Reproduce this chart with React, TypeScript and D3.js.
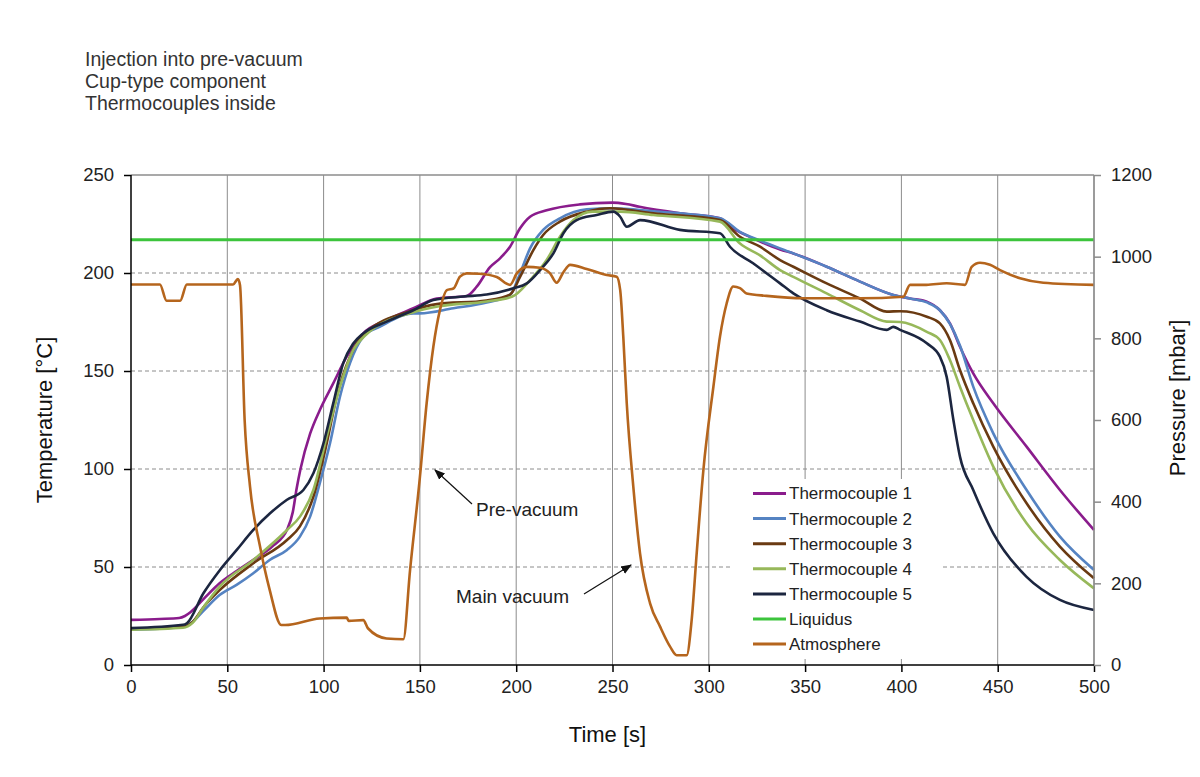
import React, { useEffect, useRef } from 'react';
import * as d3 from 'd3';

// [time s, temperature °C]
const tc1 = [
  [0, 23], [15, 23.5], [25, 24], [28, 25], [31, 27], [38, 34], [46, 41.7], [55, 48], [63.5, 53.6], [74, 61],
  [81, 69], [84, 78], [86, 90], [88, 100], [93, 118], [98, 130], [105, 143.7], [112, 157.3], [120.6, 169.2],
  [132.7, 176], [146.6, 182], [158.7, 187], [174.3, 188.3], [179.5, 193], [186.4, 203], [191.6, 207.5],
  [196.8, 213.4], [202, 222.8], [207.2, 228.7], [215.8, 232], [233, 235], [250, 235.9], [257, 235.2],
  [264, 233.8], [285, 230.5], [305.8, 227.9], [312.7, 222.8], [323, 217.7], [337, 212], [343.9, 210],
  [361.2, 203.2], [378.5, 195.6], [395.8, 188.8], [404.5, 187], [413.2, 185.4], [420, 181], [425.2, 174.3],
  [430.4, 162.4], [437.3, 148.8], [447.7, 133.5], [465, 111.4], [482.3, 89.3], [500, 68.9],
];
const tc2 = [
  [0, 18], [15, 18.5], [27, 19.5], [32, 22], [38, 28], [46, 35.7], [55, 41], [63.5, 46.8], [72, 53.6], [81, 58.7],
  [87.7, 65.5], [93, 75.7], [98, 92.7], [103.3, 113], [108.5, 136.9], [113.7, 154], [120.6, 167.5],
  [129.3, 172.6], [146.6, 179.4], [150, 179.4], [167.4, 182], [184.7, 184.9], [196.8, 188.8], [202, 199.8],
  [207.2, 212.6], [214, 222], [222.7, 227.9], [236.6, 232.5], [250.4, 233], [271, 231.5], [305.8, 227.9],
  [316.2, 221], [326.6, 216.5], [343.9, 210], [361.2, 203.2], [378.5, 195.6], [395.8, 188.8], [404.5, 187],
  [413.2, 185], [420, 181], [425.2, 174], [430.4, 163], [437.3, 142], [447.7, 118.2], [465, 89.3],
  [482.3, 65.5], [500, 48.5],
];
const tc3 = [
  [0, 18.4], [27, 19.5], [32, 22], [38, 30], [46, 38.2], [63.5, 51.9], [81, 63.8], [87.7, 70.7], [94.7, 85.9],
  [101.6, 113], [106.8, 136.9], [113.7, 157.3], [120.6, 168.4], [146.6, 181], [158, 184], [184.7, 186],
  [196.8, 189], [202, 198], [208.9, 211.7], [214, 219.4], [222.7, 226.2], [236.6, 231.3], [248.7, 233],
  [271.2, 230.4], [305.8, 227], [316.2, 218.5], [326.6, 213.4], [337, 206.6], [343.9, 203.2], [361.2, 194.7],
  [378.5, 187], [392.4, 180.3], [399.3, 180.5], [413.2, 177.7], [420, 174.3], [425.2, 165.8], [430.4, 150.5],
  [437.3, 133.5], [447.7, 111.4], [465, 82.5], [482.3, 60.4], [500, 44.2],
];
const tc4 = [
  [0, 18], [27, 19], [32, 21.5], [38, 30], [46, 40], [63.5, 53.6], [81, 68.9], [87.7, 75.7], [94.7, 89.3],
  [101.6, 116.5], [108.5, 142], [115.4, 160.7], [122, 168.5], [146.6, 180], [160, 183], [184.7, 185.5],
  [198, 188], [207.2, 196.4], [215.8, 206.6], [222.7, 218.5], [229.7, 227], [239.6, 231.3], [254, 231.3],
  [271.2, 229.6], [305.8, 226.2], [316.2, 215], [326.6, 209], [337, 201.5], [343.9, 198], [361.2, 189.6],
  [378.5, 181], [392.4, 175.2], [399.3, 175], [413.2, 170], [420, 165.8], [425.2, 155.6], [430.4, 142],
  [437.3, 125], [447.7, 101.2], [465, 72.3], [482.3, 53.6], [500, 39.1],
];
const tc5 = [
  [0, 18.8], [27, 20.5], [29, 21.3], [37.6, 36.6], [46.2, 48.5], [54.9, 58.7], [63.5, 68.9], [72.2, 77.4],
  [80.8, 84.2], [89.5, 89.3], [94.7, 97.8], [99.9, 113], [105, 133.5], [110.2, 154], [115.4, 164],
  [120.6, 169.2], [132.7, 175.2], [146.6, 181], [157, 186.2], [172.6, 188], [184.7, 189], [198.5, 192.2],
  [205.5, 194.7], [212.4, 201.5], [219.3, 210], [224.5, 220.3], [231.4, 227], [241.8, 229.6], [250.4, 231.3],
  [254, 228.7], [257.4, 223.6], [264.3, 227], [285, 222], [305.8, 220.3], [311, 213.4], [323, 205],
  [337, 194.7], [343.9, 189.6], [361.2, 181], [378.5, 175.2], [392.4, 171], [395.8, 172.5], [399.3, 171],
  [413.2, 164.1], [420, 157.3], [423.5, 147], [427, 125], [430.4, 106.3], [437.3, 89.3], [447.7, 67.2],
  [465, 45], [482.3, 33.2], [500, 28.1],
];
const liquidus = [[0, 217], [500, 217]];
// [time s, pressure mbar]
const atmosphere = [
  [0, 932], [15, 932], [18.5, 892], [25.5, 892], [29, 932], [53, 932], [55.5, 945], [56.6, 930], [59, 600],
  [61.8, 437], [67, 290], [72, 184], [78, 98], [80, 98], [98, 114], [112, 116], [113, 108], [120.6, 110],
  [123, 90], [132.7, 65], [141.4, 63], [144.9, 233], [150, 460], [153.5, 641], [157, 780], [160.4, 869],
  [164, 918], [167.4, 922], [170.8, 951], [174.3, 959], [181, 958], [189.9, 950], [196.8, 931], [200.3, 959],
  [205.5, 975], [212.4, 973], [217.6, 959], [221, 936], [224.5, 962], [228, 980], [236.6, 970], [247, 955],
  [252.2, 951], [254, 918], [255.6, 804], [257.4, 641], [260.8, 437], [264.3, 273], [269.5, 151],
  [274.7, 94], [279.9, 45], [283.3, 24], [288.5, 24], [291.1, 110], [293.7, 273], [297.2, 478], [302.4, 682],
  [305.8, 804], [309.3, 886], [312.7, 927], [316.2, 923], [319.6, 910], [330, 904], [349, 898],
  [378.5, 898], [401, 902], [404.5, 931], [413, 931], [423.5, 935], [433, 931], [436.5, 975], [440.8, 985],
  [446, 980], [451.2, 967], [461.6, 947], [473.7, 936], [500, 931],
];

const seriesNames = ['Thermocouple 1', 'Thermocouple 2', 'Thermocouple 3', 'Thermocouple 4', 'Thermocouple 5', 'Liquidus', 'Atmosphere'];
const seriesColors = ['#8a1c8c', '#5583c2', '#6a3a12', '#97b85a', '#1c2640', '#3cc43c', '#b5651d'];
const titleLines = ['Injection into pre-vacuum', 'Cup-type component', 'Thermocouples inside'];
const timeTicks = [0, 50, 100, 150, 200, 250, 300, 350, 400, 450, 500];
const tempTicks = [0, 50, 100, 150, 200, 250];
const pressureTicks = [0, 200, 400, 600, 800, 1000, 1200];

const W = 1200;
const H = 777;
const FONT = '"Liberation Sans", Arial, sans-serif';

const App: React.FC = () => {
  const svgRef = useRef<SVGSVGElement>(null);

  useEffect(() => {
    if (!svgRef.current) return;
    const svg = d3.select(svgRef.current);
    svg.selectAll('*').remove();

    const left = 131, right = 1094, top = 175, bottom = 665;
    const x = d3.scaleLinear().domain([0, 500]).range([left, right]);
    const yT = d3.scaleLinear().domain([0, 250]).range([bottom, top]);
    const yP = d3.scaleLinear().domain([0, 1200]).range([bottom, top]);

    svg.append('rect').attr('width', W).attr('height', H).attr('fill', '#fff');

    // title
    svg.append('g')
      .selectAll('text')
      .data(titleLines)
      .enter()
      .append('text')
      .attr('x', 85)
      .attr('y', (_d, i) => 66 + i * 22)
      .style('font-family', FONT)
      .style('font-size', '19.5px')
      .style('fill', '#333')
      .text((d) => d);

    // grid
    const grid = svg.append('g');
    grid.selectAll('.vg')
      .data(timeTicks.slice(1))
      .enter()
      .append('line')
      .attr('x1', (d) => x(d)).attr('x2', (d) => x(d))
      .attr('y1', top).attr('y2', bottom)
      .style('stroke', '#8c8c8c')
      .style('stroke-width', 1);
    grid.selectAll('.hg')
      .data(tempTicks.slice(1, -1))
      .enter()
      .append('line')
      .attr('x1', left).attr('x2', right)
      .attr('y1', (d) => yT(d)).attr('y2', (d) => yT(d))
      .style('stroke', '#8c8c8c')
      .style('stroke-width', 1)
      .style('stroke-dasharray', '4,3');
    grid.append('line')
      .attr('x1', left).attr('x2', right).attr('y1', top).attr('y2', top)
      .style('stroke', '#8c8c8c').style('stroke-width', 1.5);

    // series: thermocouples, liquidus, then atmosphere on top
    const line = d3.line<number[]>()
      .x((d) => x(d[0]))
      .curve(d3.curveMonotoneX);
    const tempSeries = [tc1, tc2, tc3, tc4, tc5, liquidus];
    const plot = svg.append('g');
    tempSeries.forEach((s, i) => {
      plot.append('path')
        .datum(s)
        .attr('d', line.y((d) => yT(d[1])))
        .style('fill', 'none')
        .style('stroke', seriesColors[i])
        .style('stroke-width', i === 5 ? 3 : 2.6)
        .style('stroke-linejoin', 'round');
    });
    plot.append('path')
      .datum(atmosphere)
      .attr('d', line.y((d) => yP(d[1])))
      .style('fill', 'none')
      .style('stroke', seriesColors[6])
      .style('stroke-width', 2.6)
      .style('stroke-linejoin', 'round');

    // axes
    const axisStyle = (g: d3.Selection<SVGGElement, unknown, null, undefined>) => {
      g.select('.domain').remove();
      g.selectAll('text')
        .style('font-family', FONT)
        .style('font-size', '18.5px')
        .style('fill', '#222');
    };
    svg.append('g')
      .attr('transform', `translate(0,${bottom})`)
      .call(d3.axisBottom(x).tickValues(timeTicks).tickSize(7).tickPadding(8))
      .call(axisStyle)
      .call((g) => g.selectAll('line').style('stroke', '#000').style('stroke-width', 1.5));
    svg.append('g')
      .attr('transform', `translate(${left},0)`)
      .call(d3.axisLeft(yT).tickValues(tempTicks).tickSize(7).tickPadding(10))
      .call(axisStyle)
      .call((g) => g.selectAll('line').style('stroke', '#000').style('stroke-width', 1.5));
    svg.append('g')
      .attr('transform', `translate(${right},0)`)
      .call(d3.axisRight(yP).tickValues(pressureTicks).tickFormat(d3.format('d')).tickSize(7).tickPadding(10))
      .call(axisStyle)
      .call((g) => g.selectAll('line').style('stroke', '#8c8c8c').style('stroke-width', 1.5));
    svg.append('line')
      .attr('x1', right).attr('x2', right).attr('y1', top).attr('y2', bottom)
      .style('stroke', '#8c8c8c').style('stroke-width', 1.5);
    svg.append('line')
      .attr('x1', left).attr('x2', left).attr('y1', top).attr('y2', bottom)
      .style('stroke', '#000').style('stroke-width', 1.5);
    svg.append('line')
      .attr('x1', left).attr('x2', right).attr('y1', bottom).attr('y2', bottom)
      .style('stroke', '#000').style('stroke-width', 1.5);

    // axis titles
    const titleStyle = (t: d3.Selection<SVGTextElement, unknown, null, undefined>) =>
      t.style('font-family', FONT).style('font-size', '22px').style('fill', '#111').attr('text-anchor', 'middle');
    svg.append('text')
      .attr('x', (left + right) / 2 - 5)
      .attr('y', 742)
      .text('Time [s]')
      .call(titleStyle);
    svg.append('text')
      .attr('transform', `translate(52,${(top + bottom) / 2}) rotate(-90)`)
      .text('Temperature [°C]')
      .call(titleStyle);
    svg.append('text')
      .attr('transform', `translate(1185,${(top + bottom) / 2 - 22}) rotate(-90)`)
      .text('Pressure [mbar]')
      .call(titleStyle);

    // annotations
    svg.append('defs')
      .append('marker')
      .attr('id', 'arrow')
      .attr('viewBox', '0 0 10 10')
      .attr('refX', 9).attr('refY', 5)
      .attr('markerWidth', 9).attr('markerHeight', 9)
      .attr('orient', 'auto')
      .append('path')
      .attr('d', 'M0,1 L10,5 L0,9 Z')
      .style('fill', '#111');
    const notes = [
      { text: 'Pre-vacuum', tx: 476, ty: 516, x1: 472, y1: 504, x2: 435, y2: 470 },
      { text: 'Main vacuum', tx: 456, ty: 603, x1: 584, y1: 594, x2: 631, y2: 565 },
    ];
    notes.forEach((n) => {
      svg.append('line')
        .attr('x1', n.x1).attr('y1', n.y1).attr('x2', n.x2).attr('y2', n.y2)
        .style('stroke', '#111').style('stroke-width', 1.2)
        .attr('marker-end', 'url(#arrow)');
      svg.append('text')
        .attr('x', n.tx).attr('y', n.ty)
        .style('font-family', FONT).style('font-size', '19px').style('fill', '#222')
        .text(n.text);
    });

    // legend
    const legend = svg.append('g');
    legend.append('rect')
      .attr('x', 732).attr('y', 479).attr('width', 210).attr('height', 180)
      .style('fill', '#fff');
    const rows = legend.selectAll('.row')
      .data(seriesNames)
      .enter()
      .append('g')
      .attr('transform', (_d, i) => `translate(753,${493.5 + i * 25.1})`);
    rows.append('line')
      .attr('x1', 0).attr('x2', 33)
      .style('stroke', (_d, i) => seriesColors[i])
      .style('stroke-width', 3);
    rows.append('text')
      .attr('x', 36).attr('dy', '0.35em')
      .style('font-family', FONT).style('font-size', '17px').style('fill', '#222')
      .text((d) => d);
  }, []);

  return (
    <div style={{ position: 'absolute', left: 0, top: 0 }}>
      <svg ref={svgRef} width={W} height={H} />
    </div>
  );
};

export default App;
